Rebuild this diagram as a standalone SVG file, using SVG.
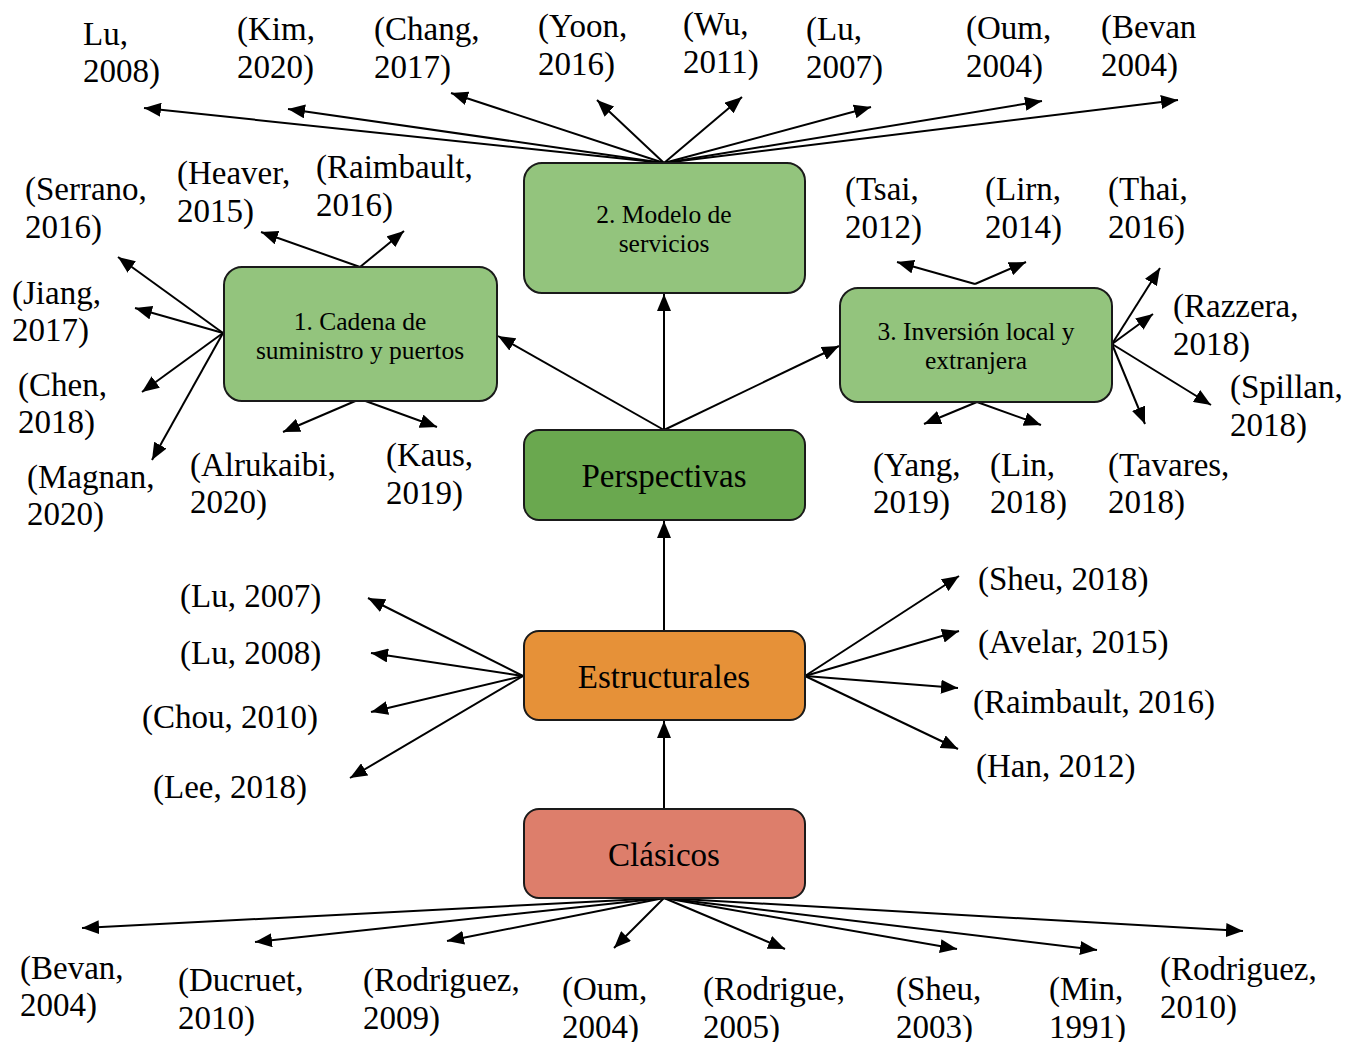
<svg xmlns="http://www.w3.org/2000/svg" width="1347" height="1042" viewBox="0 0 1347 1042">
<defs>
<marker id="ah" markerUnits="userSpaceOnUse" markerWidth="18" markerHeight="14" refX="17" refY="7" orient="auto">
<path d="M0,0 L17,7 L0,14 z" fill="#000"/>
</marker>
<style>
.box{stroke:#1a1a1a;stroke-width:2}
.t{font-family:"Liberation Serif","Times New Roman",serif;fill:#000}
.lbl{font-size:33px}
.big{font-size:33px;text-anchor:middle}
.mid{font-size:25.5px;text-anchor:middle}
.c line{stroke:#000;stroke-width:2;marker-end:url(#ah)}
</style>
</defs>
<rect width="1347" height="1042" fill="#fff"/>

<g class="c" id="connectors">
<!-- trunk -->
<line x1="664" y1="809" x2="664" y2="721"/>
<line x1="664" y1="631" x2="664" y2="521"/>
<line x1="664" y1="430" x2="664" y2="294"/>
<line x1="664" y1="430" x2="498" y2="336"/>
<line x1="664" y1="430" x2="839" y2="346"/>
<!-- top fan from Modelo -->
<line x1="664" y1="163" x2="144" y2="108"/>
<line x1="664" y1="163" x2="288" y2="109"/>
<line x1="664" y1="163" x2="451" y2="93"/>
<line x1="664" y1="163" x2="597" y2="100"/>
<line x1="664" y1="163" x2="742" y2="97"/>
<line x1="664" y1="163" x2="871" y2="107"/>
<line x1="664" y1="163" x2="1042" y2="101"/>
<line x1="664" y1="163" x2="1178" y2="100"/>
<!-- Cadena fan -->
<line x1="360" y1="267" x2="261" y2="232"/>
<line x1="360" y1="267" x2="404" y2="231"/>
<line x1="223" y1="333" x2="118" y2="257"/>
<line x1="223" y1="333" x2="135" y2="308"/>
<line x1="223" y1="333" x2="142" y2="392"/>
<line x1="223" y1="333" x2="152" y2="460"/>
<line x1="360" y1="399" x2="283" y2="432"/>
<line x1="360" y1="399" x2="437" y2="427"/>
<!-- Inversion fan -->
<line x1="975" y1="284" x2="897" y2="262"/>
<line x1="975" y1="284" x2="1026" y2="262"/>
<line x1="1112" y1="344" x2="1160" y2="268"/>
<line x1="1112" y1="344" x2="1153" y2="314"/>
<line x1="1112" y1="344" x2="1211" y2="405"/>
<line x1="1112" y1="344" x2="1145" y2="424"/>
<line x1="977" y1="402" x2="924" y2="424"/>
<line x1="977" y1="402" x2="1041" y2="425"/>
<!-- Estructurales fan -->
<line x1="523" y1="676" x2="368" y2="598"/>
<line x1="523" y1="676" x2="371" y2="653"/>
<line x1="523" y1="676" x2="371" y2="712"/>
<line x1="523" y1="676" x2="350" y2="778"/>
<line x1="805" y1="676" x2="959" y2="576"/>
<line x1="805" y1="676" x2="959" y2="631"/>
<line x1="805" y1="676" x2="958" y2="688"/>
<line x1="805" y1="676" x2="958" y2="749"/>
<!-- Clasicos fan -->
<line x1="664" y1="898" x2="82" y2="928"/>
<line x1="664" y1="898" x2="255" y2="942"/>
<line x1="664" y1="898" x2="447" y2="941"/>
<line x1="664" y1="898" x2="614" y2="948"/>
<line x1="664" y1="898" x2="785" y2="949"/>
<line x1="664" y1="898" x2="957" y2="949"/>
<line x1="664" y1="898" x2="1097" y2="950"/>
<line x1="664" y1="898" x2="1243" y2="931"/>
</g>

<g id="node-modelo">
<rect class="box" x="524" y="163" width="281" height="130" rx="18" fill="#93c47d"/>
<text class="t mid" x="664" y="223">2. Modelo de</text>
<text class="t mid" x="664" y="252">servicios</text>
</g>
<g id="node-cadena">
<rect class="box" x="224" y="267" width="273" height="134" rx="18" fill="#93c47d"/>
<text class="t mid" x="360" y="330">1. Cadena de</text>
<text class="t mid" x="360" y="359">suministro y puertos</text>
</g>
<g id="node-inversion">
<rect class="box" x="840" y="288" width="272" height="114" rx="18" fill="#93c47d"/>
<text class="t mid" x="976" y="340">3. Inversión local y</text>
<text class="t mid" x="976" y="369">extranjera</text>
</g>
<g id="node-perspectivas">
<rect class="box" x="524" y="430" width="281" height="90" rx="15" fill="#6aa84f"/>
<text class="t big" x="664" y="487">Perspectivas</text>
</g>
<g id="node-estructurales">
<rect class="box" x="524" y="631" width="281" height="89" rx="15" fill="#e69138"/>
<text class="t big" x="664" y="688">Estructurales</text>
</g>
<g id="node-clasicos">
<rect class="box" x="524" y="809" width="281" height="89" rx="15" fill="#dd7e6b"/>
<text class="t big" x="664" y="866">Clásicos</text>
</g>

<g id="labels" class="t lbl">
<!-- top -->
<text x="83" y="45">Lu,</text><text x="83" y="82">2008)</text>
<text x="237" y="40">(Kim,</text><text x="237" y="78">2020)</text>
<text x="374" y="40">(Chang,</text><text x="374" y="78">2017)</text>
<text x="538" y="37">(Yoon,</text><text x="538" y="75">2016)</text>
<text x="683" y="35">(Wu,</text><text x="683" y="73">2011)</text>
<text x="806" y="40">(Lu,</text><text x="806" y="78">2007)</text>
<text x="966" y="39">(Oum,</text><text x="966" y="77">2004)</text>
<text x="1101" y="38">(Bevan</text><text x="1101" y="76">2004)</text>
<!-- cadena -->
<text x="25" y="200">(Serrano,</text><text x="25" y="238">2016)</text>
<text x="177" y="184">(Heaver,</text><text x="177" y="222">2015)</text>
<text x="316" y="178">(Raimbault,</text><text x="316" y="216">2016)</text>
<text x="12" y="304">(Jiang,</text><text x="12" y="341">2017)</text>
<text x="18" y="396">(Chen,</text><text x="18" y="433">2018)</text>
<text x="27" y="488">(Magnan,</text><text x="27" y="525">2020)</text>
<text x="190" y="476">(Alrukaibi,</text><text x="190" y="513">2020)</text>
<text x="386" y="466">(Kaus,</text><text x="386" y="504">2019)</text>
<!-- inversion -->
<text x="845" y="200">(Tsai,</text><text x="845" y="238">2012)</text>
<text x="985" y="200">(Lirn,</text><text x="985" y="238">2014)</text>
<text x="1108" y="200">(Thai,</text><text x="1108" y="238">2016)</text>
<text x="1173" y="317">(Razzera,</text><text x="1173" y="355">2018)</text>
<text x="1230" y="398">(Spillan,</text><text x="1230" y="436">2018)</text>
<text x="873" y="476">(Yang,</text><text x="873" y="513">2019)</text>
<text x="990" y="476">(Lin,</text><text x="990" y="513">2018)</text>
<text x="1108" y="476">(Tavares,</text><text x="1108" y="513">2018)</text>
<!-- estructurales -->
<text x="180" y="607">(Lu, 2007)</text>
<text x="180" y="664">(Lu, 2008)</text>
<text x="142" y="728">(Chou, 2010)</text>
<text x="153" y="798">(Lee, 2018)</text>
<text x="978" y="590">(Sheu, 2018)</text>
<text x="978" y="653">(Avelar, 2015)</text>
<text x="973" y="713">(Raimbault, 2016)</text>
<text x="976" y="777">(Han, 2012)</text>
<!-- clasicos -->
<text x="20" y="979">(Bevan,</text><text x="20" y="1016">2004)</text>
<text x="178" y="991">(Ducruet,</text><text x="178" y="1029">2010)</text>
<text x="363" y="991">(Rodriguez,</text><text x="363" y="1029">2009)</text>
<text x="562" y="1000">(Oum,</text><text x="562" y="1038">2004)</text>
<text x="703" y="1000">(Rodrigue,</text><text x="703" y="1038">2005)</text>
<text x="896" y="1000">(Sheu,</text><text x="896" y="1038">2003)</text>
<text x="1049" y="1000">(Min,</text><text x="1049" y="1038">1991)</text>
<text x="1160" y="980">(Rodriguez,</text><text x="1160" y="1018">2010)</text>
</g>
</svg>
